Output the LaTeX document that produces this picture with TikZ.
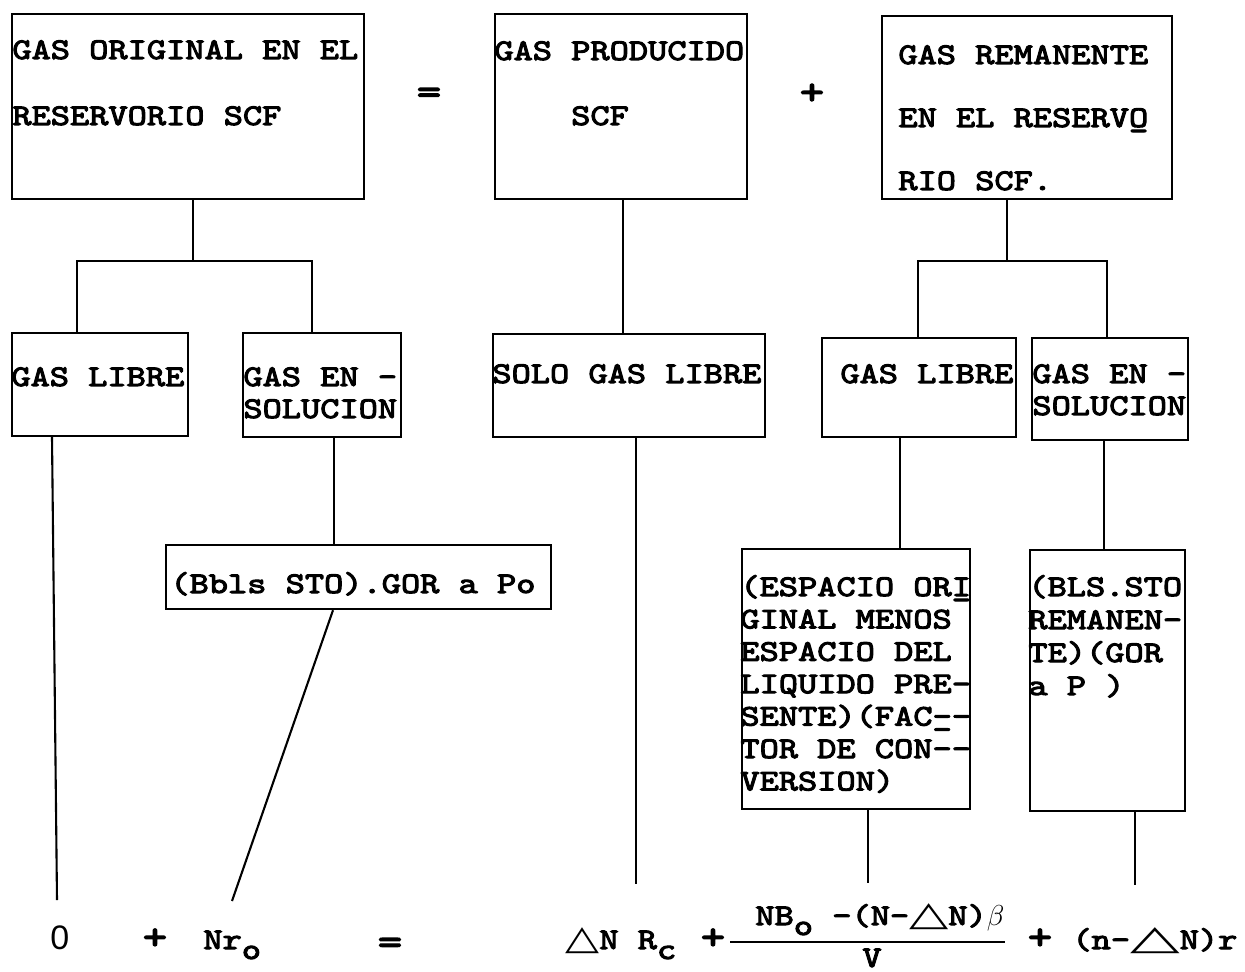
\documentclass[tikz,border=0pt]{standalone}
\usepackage{fontspec}
\newfontfamily\tw{lmmono10-regular.otf}[FakeBold=3.5,FakeStretch=1.22]
\newfontfamily\sansf{Liberation Sans}
\newfontfamily\dejavu{DejaVu Sans}
\usetikzlibrary{fit}
\newcommand\us[1]{\rlap{\_}#1}
\newcommand\tri[1]{\scalebox{#1}[1]{\dejavu\bfseries\fontsize{17}{17}\selectfont △}}
\newcommand\lns[2]{{\fontsize{15}{#1}\selectfont\begin{tabular}[t]{@{}l@{}}#2\end{tabular}}}
\begin{document}
\begin{tikzpicture}[x=0.5pt,y=-0.5pt,
  box/.style={draw, line width=1.2pt, inner sep=0pt},
  txt/.style={anchor=base west, inner sep=0pt, font=\tw\fontsize{15}{16.25}\selectfont},
  sym/.style={inner sep=0pt, font=\tw\fontsize{19}{19}\selectfont},
  con/.style={line width=1.05pt}]
\useasboundingbox (0,0) rectangle (1245,972);

% top row
\node[box, fit={(12,14) (364,199)}] (A) {};
\node[box, fit={(495,14) (747,199)}] (B) {};
\node[box, fit={(882,16) (1172,199)}] (C) {};
\node[txt] (tA) at (12,59) {\lns{33pt}{GAS ORIGINAL EN EL\\RESERVORIO SCF}};
\node[txt] (tB) at (494,60) {\lns{32.5pt}{GAS PRODUCIDO\\\hspace*{38.4pt}SCF}};
\node[txt] (tC) at (898,64) {\lns{31.5pt}{GAS REMANENTE\\EN EL RESERV\us{O}\\RIO SCF.}};
\node[sym] (eq1) at (429,96) {=};
\node[sym] (pl1) at (812,94) {+};

% middle row
\node[box, fit={(12,333) (188,436)}] (GL) {};
\node[box, fit={(243,333) (401,437)}] (GS) {};
\node[box, fit={(493,334) (765,437)}] (SG) {};
\node[box, fit={(822,338) (1016,437)}] (GL2) {};
\node[box, fit={(1032,338) (1188,440)}] (GS2) {};
\node[txt] (tGL) at (11,386) {GAS LIBRE};
\node[txt] (tGS) at (243,386) {\lns{16pt}{GAS EN -\\SOLUCION}};
\node[txt] (tSG) at (492,383) {SOLO GAS LIBRE};
\node[txt] (tGL2) at (840,383) {GAS LIBRE};
\node[txt] (tGS2) at (1032,383) {\lns{16pt}{GAS EN -\\SOLUCION}};

% lower boxes
\node[box, fit={(166,545) (551,609)}] (BB) {};
\node[txt] (tBB) at (170,593) {(Bbls STO).GOR a Po};
\node[box, fit={(742,549) (970,809)}] (ES) {};
\node[txt] (tES) at (740,596) {\lns{16.2pt}{(ESPACIO OR\us{I}\\GINAL MENOS\\ESPACIO DEL\\LIQUIDO PRE-\\SENTE)(FAC\us{-}-\\TOR DE CON--\\VERSION)}};
\node[box, fit={(1030,550) (1185,811)}] (BL) {};
\node[txt] (tBL) at (1028,596) {\lns{16.5pt}{(BLS.STO\\REMANEN-\\TE)(GOR\\a P )}};

% connectors
\coordinate (jA) at (193,261);
\coordinate (hA1) at (77,261);
\coordinate (hA2) at (312,261);
\draw[con] (jA |- A.south) -- (jA);
\draw[con] (hA1 |- GL.north) -- (hA1) -- (hA2) -- (hA2 |- GS.north);
\coordinate (jB) at (623,0);
\draw[con] (jB |- B.south) -- (jB |- SG.north);
\coordinate (jC) at (1007,261);
\coordinate (hC1) at (918,261);
\coordinate (hC2) at (1107,261);
\draw[con] (jC |- C.south) -- (jC);
\draw[con] (hC1 |- GL2.north) -- (hC1) -- (hC2) -- (hC2 |- GS2.north);
\coordinate (jD) at (900,0);
\draw[con] (jD |- GL2.south) -- (jD |- ES.north);
\coordinate (jE) at (1104,0);
\draw[con] (jE |- GS2.south) -- (jE |- BL.north);
\coordinate (jF) at (334,0);
\draw[con] (jF |- GS.south) -- (jF |- BB.north);

\coordinate (s1) at (52,0);   \coordinate (e1) at (57,900);
\coordinate (s2) at (333,0);  \coordinate (e2) at (232,901);
\coordinate (s3) at (636,0);  \coordinate (e3) at (636,884);
\coordinate (s4) at (868,0);  \coordinate (e4) at (868,883);
\coordinate (s5) at (1135,0); \coordinate (e5) at (1135,885);
\draw[con] (s1 |- GL.south) -- (e1);
\draw[con] (s2 |- BB.south) -- (e2);
\draw[con] (s3 |- SG.south) -- (e3);
\draw[con] (s4 |- ES.south) -- (e4);
\draw[con] (s5 |- BL.south) -- (e5);

% bottom equation
\node[txt, font=\sansf\fontsize{17}{17}\selectfont] (b0) at (50,949) {0};
\node[sym, anchor=base] (bp1) at (155,949) {+};
\node[txt] (bNr) at (203,949) {Nr\raisebox{-5pt}{o}};
\node[sym, anchor=base] (beq) at (390,954) {=};
\node[txt] (bRc) at (565,949) {\tri{1.3}N R\raisebox{-5pt}{c}};
\node[sym, anchor=base] (bp2) at (713,949) {+};
\node[txt] (bnum) at (755,925) {NB\raisebox{-5pt}{o} -(N-\tri{1.5}N)$\beta$};
\coordinate (fb1) at (730,942);
\coordinate (fb2) at (1005,942);
\draw[con] (fb1) -- (fb2);
\node[txt, anchor=base] (bV) at (872,967) {V};
\node[sym, anchor=base] (bp3) at (1040,949) {+};
\node[txt] (blast) at (1072,949) {(n-\tri{1.9}N)r};
\end{tikzpicture}
\end{document}
